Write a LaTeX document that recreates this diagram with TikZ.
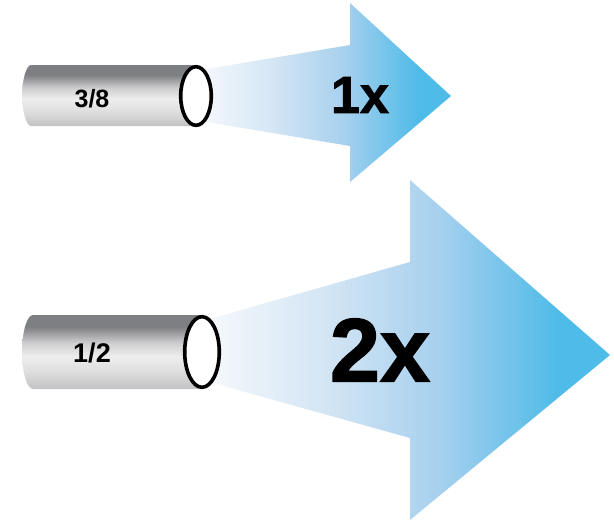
\documentclass[tikz,border=0pt]{standalone}
\usepackage{fontspec}
\setmainfont{Liberation Sans}
\newfontfamily\heavyfont{Liberation Sans Bold}[FakeBold=1.6]
\definecolor{flowA}{HTML}{F6F9FC}
\definecolor{flowB}{HTML}{D3E5F4}
\definecolor{flowC}{HTML}{A6D0EE}
\definecolor{flowD}{HTML}{4FBBE8}
\definecolor{pipeA}{HTML}{7E7F82}
\definecolor{pipeB}{HTML}{CFCFD0}
\definecolor{pipeC}{HTML}{EEEEEF}
\definecolor{pipeD}{HTML}{DADADB}
\definecolor{pipeE}{HTML}{C2C2C4}
\pgfdeclarehorizontalshading{flowshade}{100bp}{color(0bp)=(flowA); color(25bp)=(flowA); color(40bp)=(flowB); color(54bp)=(flowC); color(68.5bp)=(flowD); color(100bp)=(flowD)}
\pgfdeclareverticalshading{pipeshade}{100bp}{color(0bp)=(pipeE); color(25bp)=(pipeE); color(35bp)=(pipeD); color(47bp)=(pipeC); color(56bp)=(pipeB); color(67bp)=(pipeA); color(75bp)=(pipeA); color(100bp)=(pipeA)}
\tikzset{
  flow/.style={shading=flowshade},
  pipebody/.style={shading=pipeshade},
  pipemouth/.style={draw=black, line width=3.6pt, fill=white},
  pipelabel/.style={inner sep=0pt, font=\bfseries\fontsize{#1}{#1}\selectfont},
  factor/.style={inner sep=0pt, font=\heavyfont\fontsize{#1}{#1}\selectfont}
}
\begin{document}
\begin{tikzpicture}[x=1pt,y=-1pt]
\useasboundingbox (0,0) rectangle (614,520);
% arrows
\shade[flow] (199,70.3) -- (350,45) -- (350,3) -- (451,96) -- (350,182) -- (350,146) -- (199,120.7) -- cycle;
\shade[flow] (205,320.3) -- (410,262) -- (410,180) -- (610,355) -- (410,520) -- (410,438) -- (205,380.8) -- cycle;
% pipes
\shade[pipebody] (31,65) -- (196,65) -- (196,126) -- (31,126)
  .. controls (26,126) and (22,109.3) .. (22,95.5)
  .. controls (22,81.7) and (26,65) .. (31,65) -- cycle;
\draw[pipemouth] (196,96) ellipse [x radius=15.3, y radius=29.3];
\shade[pipebody] (33,315) -- (202,315) -- (202,389) -- (33,389)
  .. controls (27,389) and (22,372.4) .. (22,352)
  .. controls (22,331.6) and (27,315) .. (33,315) -- cycle;
\draw[pipemouth] (202,352) ellipse [x radius=17.3, y radius=35.3];
% labels
\node[pipelabel=25] (lab1) at (92,99) {3/8};
\node[pipelabel=27] (lab2) at (92,353) {1/2};
\node[factor=52] (f1) at (360,95) {1x};
\node[factor=90] (f2) at (380,350) {2x};
\end{tikzpicture}
\end{document}
